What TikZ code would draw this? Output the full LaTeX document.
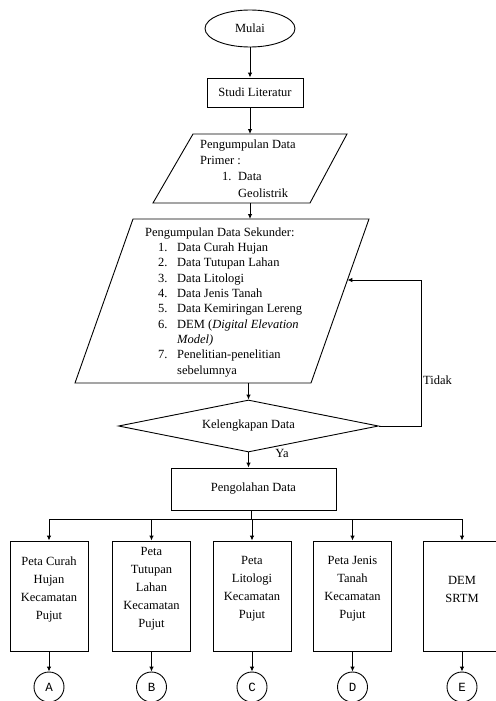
\documentclass[tikz,border=0pt]{standalone}
\usepackage{fontspec}
\setmainfont{Liberation Serif}
\newfontfamily\circlefont{Liberation Mono}
\usetikzlibrary{shapes.geometric,arrows.meta}

\newcommand{\nr}[1]{\hspace*{13pt}\makebox[19pt][l]{#1}}
\newcommand{\cont}{\hspace*{32pt}}

\begin{document}
\begin{tikzpicture}[x=1pt,y=-1pt,font=\fontsize{12.5}{15.3}\selectfont]
  \useasboundingbox (0,0) rectangle (495,701);

  \tikzstyle{line}=[line width=0.9pt]
  \tikzstyle{arr}=[line, -{Latex[length=5pt,width=4.5pt]}]
  \tikzstyle{box}=[draw, line, rectangle, inner sep=2pt]
  \tikzstyle{txt}=[inner sep=0pt, align=left, anchor=base west]

  \node[draw, line, ellipse, minimum width=90pt, minimum height=37pt, inner sep=0pt] (mulai) at (250,28.5) {Mulai};
  \node[box, minimum width=96pt, minimum height=29pt] (studi) at (255,92.5) {Studi Literatur};

  % data primer (text placed by its last baseline)
  \draw[line] (193,134) -- (347,134) -- (310,203) -- (153,203) -- cycle;
  \coordinate (prim-in) at (250,134);
  \coordinate (prim-out) at (250,203);
  \node[txt, font=\fontsize{12.5}{16.3}\selectfont] (prim) at (200,197)
    {Pengumpulan Data\\Primer :\\\hspace*{22pt}\makebox[16pt][l]{1.}Data\\\hspace*{38pt}Geolistrik};

  % data sekunder
  \draw[line] (133,219) -- (369,219) -- (311,383) -- (75,383) -- cycle;
  \coordinate (sek-in) at (250,219);
  \coordinate (sek-out) at (248.5,383);
  \coordinate (sek-side) at (347.4,280);
  \node[txt] (sek) at (145,374)
    {Pengumpulan Data Sekunder:\\
     \nr{1.}Data Curah Hujan\\
     \nr{2.}Data Tutupan Lahan\\
     \nr{3.}Data Litologi\\
     \nr{4.}Data Jenis Tanah\\
     \nr{5.}Data Kemiringan Lereng\\
     \nr{6.}DEM (\textit{Digital Elevation}\\
     \cont\textit{Model)}\\
     \nr{7.}Penelitian-penelitian\\
     \cont sebelumnya};

  % cek data
  \node[draw, line, diamond, aspect=5, minimum width=260pt, minimum height=52pt, inner sep=0pt] (cek) at (248.5,426) {Kelengkapan Data};
  \node[inner sep=0pt, anchor=west] (tidak) at (423,380) {Tidak};
  \node[inner sep=0pt] (ya) at (282,453) {Ya};
  \coordinate (loop) at (421,280);

  \node[box, minimum width=165pt, minimum height=42pt] (olah) at (253.5,489) {Pengolahan Data};
  \coordinate (bus) at (251,519);

  \draw[arr] (mulai) -- (mulai |- studi.north);
  \draw[arr] (studi.south -| prim-in) -- (prim-in);
  \draw[arr] (prim-out) -- (sek-in);
  \draw[arr] (sek-out) -- (cek.north);
  \draw[arr] (cek.east) -| (loop) -- (sek-side);
  \draw[arr] (cek.south) -- (cek.south |- olah.north);
  \draw[line] (olah.south -| bus) -- (bus);

  % peta hasil
  \foreach \x/\lbl/\txt in {49/A/{Peta Curah\\Hujan\\Kecamatan\\Pujut},
                            151.5/B/{Peta\\Tutupan\\Lahan\\Kecamatan\\Pujut},
                            252/C/{Peta\\Litologi\\Kecamatan\\Pujut},
                            352.5/D/{Peta Jenis\\Tanah\\Kecamatan\\Pujut},
                            462/E/{DEM\\SRTM}}
    {
      \node[box, minimum width=78pt, minimum height=110pt] (map-\lbl) at (\x,596) {};
      \node[align=center, inner sep=0pt, font=\fontsize{12.5}{18}\selectfont] (lbl-\lbl) at (\x,589) {\txt};
      \node[draw, line, circle, minimum size=30pt, inner sep=0pt, font=\circlefont\fontsize{12.5}{15}\selectfont] (end-\lbl) at (\x,687) {\lbl};
      \draw[arr] (map-\lbl) -- (end-\lbl);
      \draw[arr] (bus -| map-\lbl) -- (map-\lbl);
    }
  \draw[line] (bus -| map-A) -- (bus -| map-E);
\end{tikzpicture}
\end{document}
